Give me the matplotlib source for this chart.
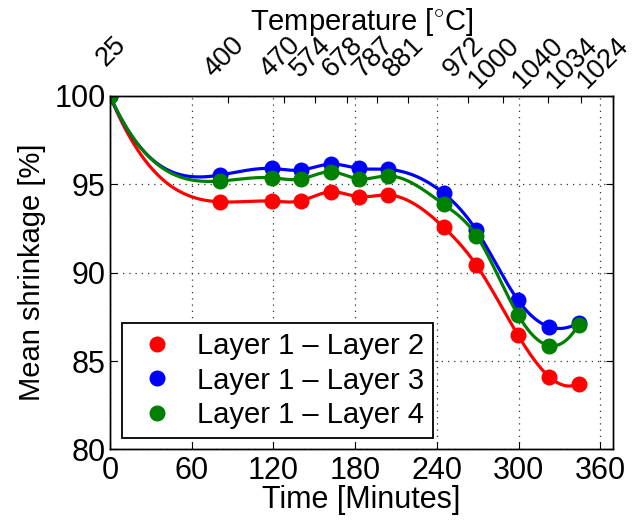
import numpy as np
import matplotlib
matplotlib.use('Agg')
import matplotlib.pyplot as plt
import matplotlib.transforms as mtransforms

plt.rcParams['font.family'] = ['Liberation Sans', 'DejaVu Sans']
plt.rcParams['mathtext.fontset'] = 'custom'
plt.rcParams['mathtext.rm'] = 'Liberation Sans'

# sample times in minutes, and the furnace temperature at each one
times = [0, 81, 119, 140, 162, 183, 204, 245, 269, 299.5, 322.5, 344]
temps = ['25', '400', '470', '574', '678', '787', '881', '972', '1000', '1040', '1034', '1024']

layer12 = [100, 94.01, 94.05, 94.07, 94.58, 94.30, 94.40, 92.57, 90.43, 86.47, 84.11, 83.73]
layer13 = [100, 95.53, 95.90, 95.81, 96.15, 95.90, 95.85, 94.49, 92.40, 88.45, 86.94, 87.17]
layer14 = [100, 95.19, 95.37, 95.30, 95.71, 95.31, 95.48, 93.87, 92.10, 87.62, 85.88, 87.07]

names = ['Layer 1 \u2013 Layer 2', 'Layer 1 \u2013 Layer 3', 'Layer 1 \u2013 Layer 4']
colors = ['#ff0000', '#0000ff', '#008000']


def spline(x, y, xx):
	# cubic spline, not-a-knot ends (like matlab's spline)
	x = np.asarray(x, float)
	y = np.asarray(y, float)
	n = len(x)
	h = np.diff(x)
	A = np.zeros((n, n))
	b = np.zeros(n)
	A[0, 0], A[0, 1], A[0, 2] = -h[1], h[0] + h[1], -h[0]
	A[-1, -3], A[-1, -2], A[-1, -1] = -h[-1], h[-2] + h[-1], -h[-2]
	for i in range(1, n - 1):
		A[i, i - 1] = h[i - 1]
		A[i, i] = 2 * (h[i - 1] + h[i])
		A[i, i + 1] = h[i]
		b[i] = 6 * ((y[i + 1] - y[i]) / h[i] - (y[i] - y[i - 1]) / h[i - 1])
	M = np.linalg.solve(A, b)
	k = np.clip(np.searchsorted(x, xx) - 1, 0, n - 2)
	t0 = x[k + 1] - xx
	t1 = xx - x[k]
	hk = h[k]
	return (M[k] * t0**3 / (6 * hk) + M[k + 1] * t1**3 / (6 * hk)
			+ (y[k] / hk - M[k] * hk / 6) * t0
			+ (y[k + 1] / hk - M[k + 1] * hk / 6) * t1)


fig = plt.figure(figsize=(6.42, 5.22), dpi=100)
ax = fig.add_axes([0.1713, 0.1389, 0.7830, 0.6772])

xx = np.linspace(times[0], times[-1], 400)
for vals, name, c in zip([layer12, layer13, layer14], names, colors):
	ax.plot(xx, spline(times, vals, xx), '-', color=c, lw=2.3)
	ax.plot(times, vals, 'o', color=c, ms=10.5, label=name)

ax.set_xlim(0, 369)
ax.set_ylim(80, 100)
ax.set_xticks(range(0, 361, 60))
ax.set_yticks(range(80, 101, 5))
ax.grid(True, linestyle=(0, (1, 4)), color='#333333', lw=0.9)
ax.tick_params(direction='in', top=True, right=True, labelsize=22, length=5, pad=5)
ax.tick_params(axis='y', pad=3)
ax.set_xlabel('Time [Minutes]', fontsize=22, labelpad=-1)
ax.set_ylabel('Mean shrinkage [%]', fontsize=21, labelpad=6)

leg = ax.legend(loc='lower left', fontsize=21, fancybox=False, edgecolor='black',
				framealpha=1, handletextpad=0.5, borderaxespad=0.4,
				labelspacing=0.22, handlelength=1.8, borderpad=0.3)
leg.get_frame().set_linewidth(1.3)

top = ax.twiny()
top.set_xlim(0, times[-1])
top.set_xticks(times)
top.set_xticklabels([])
top.tick_params(direction='in', length=5)
# temperature labels, rotated, hanging from their right end
lab_tr = mtransforms.offset_copy(top.get_xaxis_transform(), fig=fig, x=12, y=55, units='dots')
for t, s in zip(times, temps):
	top.text(t, 1, s, transform=lab_tr, rotation=45, rotation_mode='anchor',
			 ha='right', va='center', fontsize=19.5, clip_on=False)
top.set_xlabel(r'Temperature [$^{\circ}$C]', fontsize=21, labelpad=44)

for a in (ax, top):
	for sp in a.spines.values():
		sp.set_linewidth(1.0)

fig.savefig('out.png', dpi=100)
